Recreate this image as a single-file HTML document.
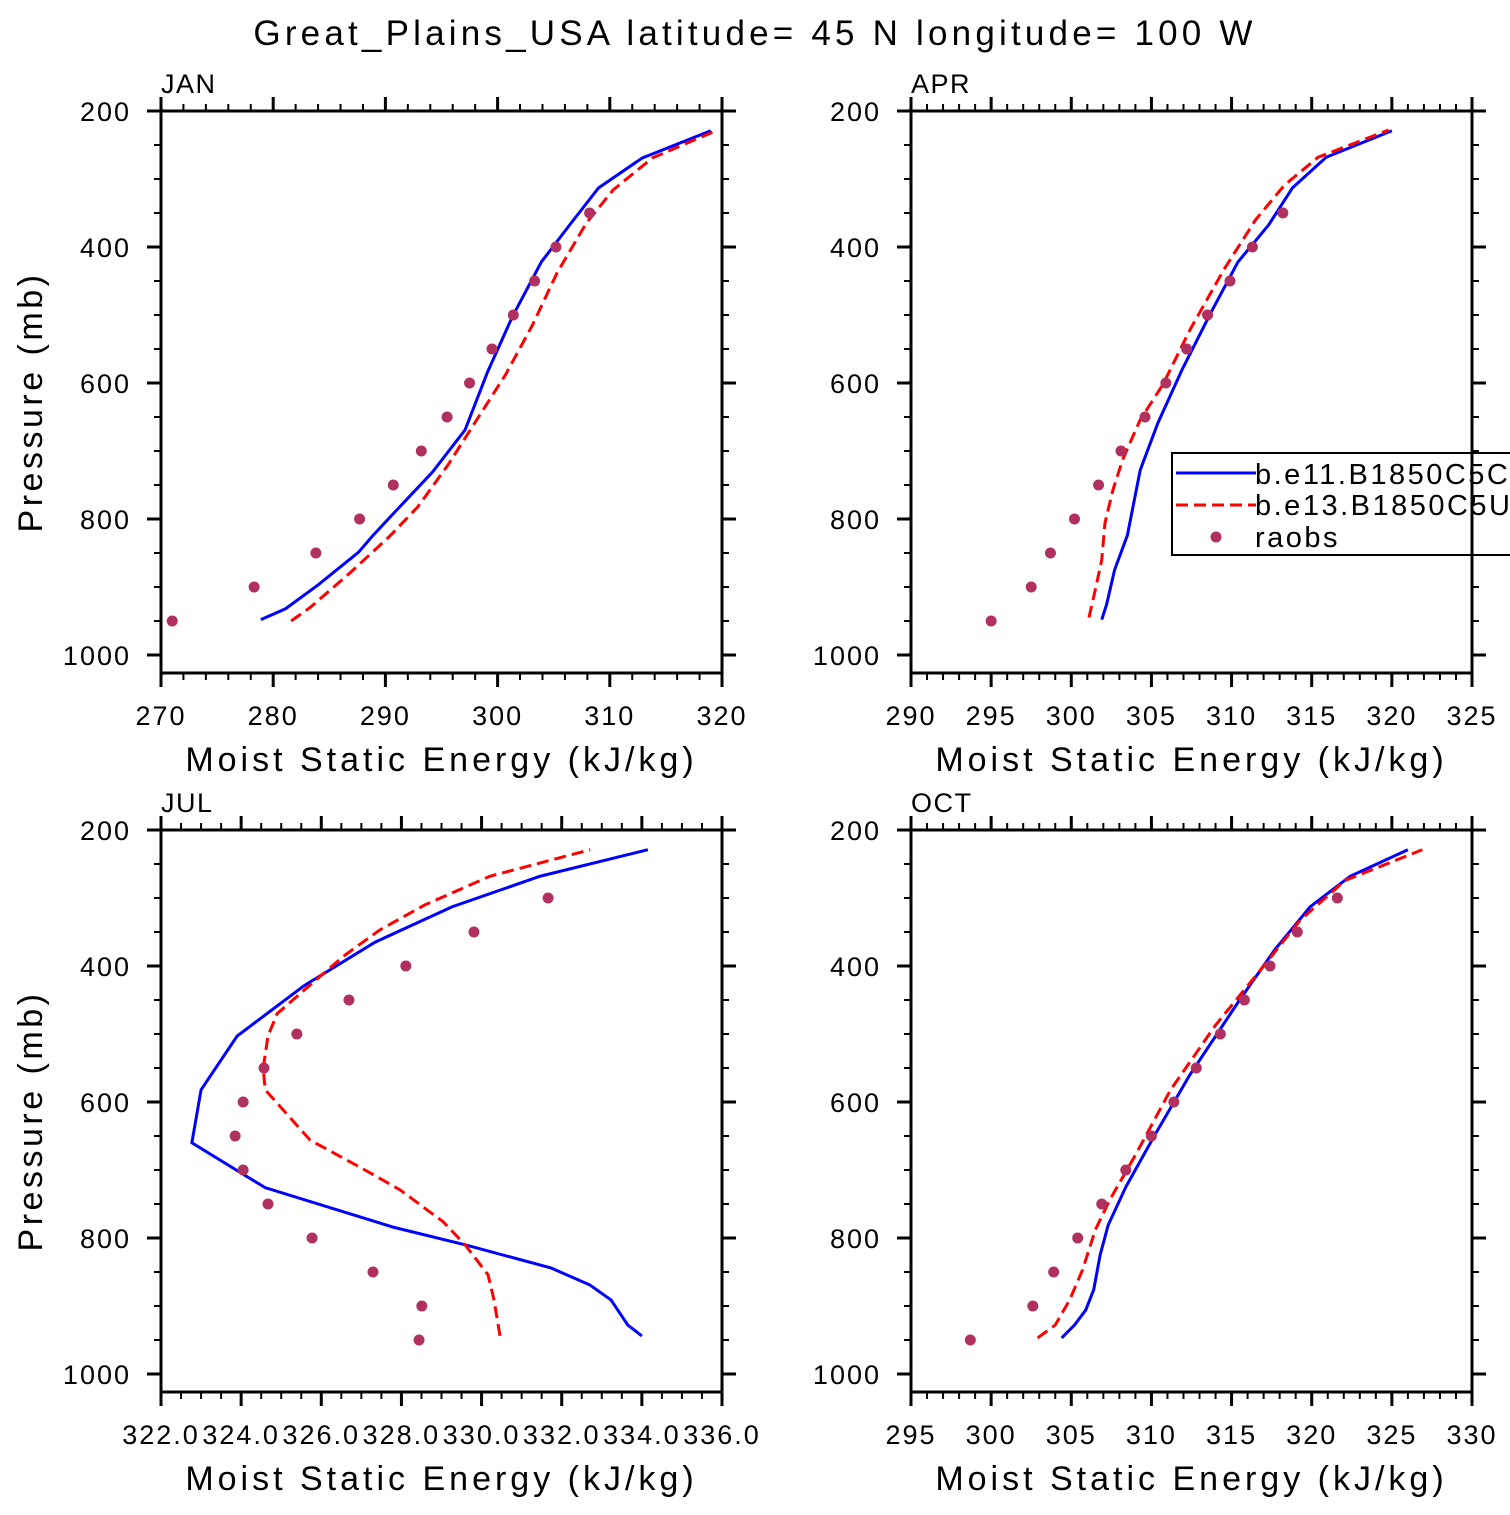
<!DOCTYPE html>
<html><head><meta charset="utf-8"><style>
html,body{margin:0;padding:0;background:#fff;overflow:hidden;}
svg text{font-family:"Liberation Sans","DejaVu Sans",sans-serif;fill:#000;}
</style></head><body>
<svg id="chart" width="1510" height="1510" viewBox="0 0 1510 1510" xmlns="http://www.w3.org/2000/svg">
<text x="755" y="45" font-size="35" text-anchor="middle" letter-spacing="4.2">Great_Plains_USA  latitude= 45 N longitude= 100 W</text>
<g id="panels"></g>
</svg>
<script>
const janP = [948,932,897,849,824,787,731,669,584,503,422,368,313,269,229];
const janBlue = [278.9,281.1,284.0,287.6,288.9,291.0,294.2,297.1,299.1,301.3,303.9,306.4,309.0,312.9,319.0];
const janRedP = [950,930,880,825,782,720,650,588,515,438,365,316,269,228];
const janRed = [281.6,283.3,286.8,290.4,292.9,295.6,298.3,300.7,303.1,305.3,307.9,310.3,313.8,319.6];
const obsP = [950,900,850,800,750,700,650,600,550,500,450,400,350,300];
const janObs = [271.0,278.3,283.8,287.7,290.7,293.2,295.5,297.5,299.5,301.4,303.3,305.2,308.2];

const aprBlueP = [948,926,875,824,728,659,581,497,422,368,313,268,229];
const aprBlue = [301.9,302.2,302.7,303.5,304.3,305.4,306.9,308.7,310.4,312.3,313.8,315.9,320.0];
const aprRedP = [945,904,860,806,757,713,654,603,522,434,360,309,268,228];
const aprRed = [301.1,301.5,301.9,302.1,302.6,303.2,304.3,305.7,307.4,309.5,311.5,313.3,315.4,319.8];
const aprObs = [295.0,297.5,298.7,300.2,301.7,303.1,304.6,305.9,307.2,308.5,309.9,311.3,313.2];

const julBlueP = [944,928,891,869,844,810,784,726,660,582,503,429,365,313,268,229];
const julBlue = [334.0,333.65,333.23,332.7,331.73,329.59,327.79,324.6,322.77,323.0,323.9,325.57,327.34,329.26,331.46,334.15];
const julRedP = [944,891,854,810,776,729,700,656,582,550,503,470,428,384,347,310,268,229];
const julRed = [330.46,330.31,330.16,329.59,329.04,327.96,327.09,325.72,324.6,324.55,324.67,324.9,325.72,326.59,327.46,328.59,330.21,332.71];
const julObs = [328.44,328.51,327.29,325.77,324.67,324.05,323.85,324.05,324.57,325.39,326.69,328.11,329.81,331.66];

const octBlueP = [947,928,906,876,825,781,725,649,560,450,376,313,268,229];
const octBlue = [304.4,305.2,305.9,306.4,306.8,307.3,308.4,310.2,312.4,315.5,317.7,319.9,322.4,326.0];
const octRedP = [947,928,891,847,788,744,678,582,487,406,332,274,229];
const octRed = [302.9,304.0,304.9,305.7,306.5,307.4,309.0,311.2,314.0,316.8,319.3,322.1,326.9];
const octObs = [298.7,302.6,303.9,305.4,306.9,308.4,310.0,311.4,312.8,314.3,315.8,317.4,319.1,321.6];

const janTicks = [270,280,290,300,310,320];
const aprTicks = [290,295,300,305,310,315,320,325];
const julTicks = [322,324,326,328,330,332,334,336];
const octTicks = [295,300,305,310,315,320,325,330];
const yTicks = [200,400,600,800,1000];

const NS='http://www.w3.org/2000/svg';
const root=document.getElementById('panels');
function mk(tag,attrs,parent){const e=document.createElementNS(NS,tag);for(const k in attrs)e.setAttribute(k,attrs[k]);(parent||root).appendChild(e);return e;}

function panel(name,left,top,xmin,xmax,xticks,minorStep,labelFmt,blueP,blue,redP,red,obsPs,obs,legend){
  const W=561, yTopPx=top, yPerMb=136/200;
  const bottom=top+562;
  const g=mk('g',{});
  
  
  const xs=v=>left+(v-xmin)/(xmax-xmin)*W;
  const ys=p=>yTopPx+(p-200)*yPerMb;
  const bl=mk('polyline',{points:blue.map((v,i)=>xs(v)+','+ys(blueP[i])).join(' '),fill:'none',stroke:'#0000ff','stroke-width':3},g);
  
  
  const rl=mk('polyline',{points:red.map((v,i)=>xs(v)+','+ys(redP[i])).join(' '),fill:'none',stroke:'#ff0000','stroke-width':3,'stroke-dasharray':'12,6'},g);
  
  
  obs.forEach((v,i)=>{const c=mk('circle',{cx:xs(v),cy:ys(obsPs[i]),r:5.5,fill:'#b03060'},g);
    
    });
  const fr=mk('rect',{x:left,y:top,width:W,height:bottom-top,fill:'none',stroke:'#000','stroke-width':3},g);
  
  
  for(let v=xmin;v<=xmax+1e-9;v+=minorStep){
    const x=xs(v);const major=xticks.some(t=>Math.abs(t-v)<1e-6);const L=major?14:7;
    mk('line',{x1:x,y1:top,x2:x,y2:top-L,stroke:'#000','stroke-width':major?3:2},g);
    mk('line',{x1:x,y1:bottom,x2:x,y2:bottom+L,stroke:'#000','stroke-width':major?3:2},g);
  }
  xticks.forEach(t=>{const tx=mk('text',{x:xs(t),y:bottom+52,'font-size':27,'text-anchor':'middle','letter-spacing':'2'},g);tx.textContent=labelFmt(t);
    
    });
  for(let p=200;p<=1025;p+=50){
    const y=ys(p);const major=p%200===0;const L=major?14:7;
    mk('line',{x1:left,y1:y,x2:left-L,y2:y,stroke:'#000','stroke-width':major?3:2},g);
    mk('line',{x1:left+W,y1:y,x2:left+W+L,y2:y,stroke:'#000','stroke-width':major?3:2},g);
  }
  yTicks.forEach(p=>{const tx=mk('text',{x:left-30,y:ys(p)+10,'font-size':27,'text-anchor':'end','letter-spacing':'2'},g);tx.textContent=p;
    
    });
  const t=mk('text',{x:left,y:top-18,'font-size':27,'letter-spacing':'1.5'},g);t.textContent=name;
  
  
  const xt=mk('text',{x:left+W/2,y:bottom+98,'font-size':34,'text-anchor':'middle','letter-spacing':'4'},g);xt.textContent='Moist Static Energy (kJ/kg)';
  
  
  if(left<500){const yt=mk('text',{x:0,y:0,'font-size':34,'text-anchor':'middle','letter-spacing':'3.5',transform:`translate(42,${(top+bottom)/2+10}) rotate(-90)`},g);yt.textContent='Pressure (mb)';
    
    }
  if(legend){
    const lg=mk('g',{},g);
    
    
    mk('rect',{x:1172,y:453,width:345,height:102,fill:'#fff',stroke:'#000','stroke-width':2},lg);
    mk('line',{x1:1176,y1:473,x2:1256,y2:473,stroke:'#0000ff','stroke-width':3},lg);
    mk('line',{x1:1176,y1:505,x2:1256,y2:505,stroke:'#ff0000','stroke-width':3,'stroke-dasharray':'12,6'},lg);
    mk('circle',{cx:1216,cy:537,r:5.5,fill:'#b03060'},lg);
    [['b.e11.B1850C5CN',484],['b.e13.B1850C5U',515],['raobs',547]].forEach(([s,y])=>{const tx=mk('text',{x:1255,y:y,'font-size':29,'letter-spacing':'2.5'},lg);tx.textContent=s;
      
      });
    mk('line',{x1:1472,y1:440,x2:1472,y2:570,stroke:'#000','stroke-width':3},lg);
  }
}
const f0=v=>String(v), f1=v=>v.toFixed(1);
panel('JAN',161,111,270,320,janTicks,2,f0,janP,janBlue,janRedP,janRed,obsP,janObs,false);
panel('APR',911,111,290,325,aprTicks,1,f0,aprBlueP,aprBlue,aprRedP,aprRed,obsP,aprObs,true);
panel('JUL',161,830,322,336,julTicks,0.5,f1,julBlueP,julBlue,julRedP,julRed,obsP,julObs,false);
panel('OCT',911,830,295,330,octTicks,1,f0,octBlueP,octBlue,octRedP,octRed,obsP,octObs,false);
</script>
</body></html>
